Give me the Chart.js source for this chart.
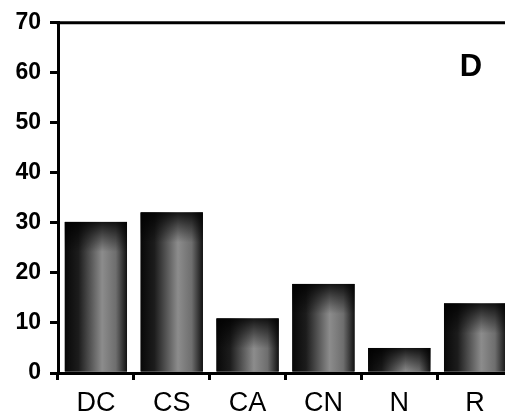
<!DOCTYPE html>
<html>
<head>
<meta charset="utf-8">
<script src="https://cdn.jsdelivr.net/npm/chart.js@4"></script>
<style>
  html, body { margin: 0; padding: 0; background: #fff; overflow: hidden; }
  #wrap { width: 522px; height: 419px; }
</style>
</head>
<body>
<div id="wrap"><canvas id="chart" width="522" height="419"></canvas></div>
<script>
const categories = ['DC', 'CS', 'CA', 'CN', 'N', 'R'];
const values = [30.2, 32.1, 10.9, 17.8, 5.0, 13.9];
const yTicks = [0, 10, 20, 30, 40, 50, 60, 70];
const panelLabel = 'D';

// shade each bar: dark edges, lighter stippled middle
const shadePlugin = {
    id: 'shade',
    afterDatasetsDraw(chart) {
        const ctx = chart.ctx;
        const meta = chart.getDatasetMeta(0);
        ctx.save();
        meta.data.forEach(bar => {
            const left = bar.x - bar.width / 2;
            const top = bar.y;
            const h = bar.base - bar.y;
            const g = ctx.createLinearGradient(left, 0, left + bar.width, 0);
            g.addColorStop(0, '#080808');
            g.addColorStop(0.22, '#1c1c1c');
            g.addColorStop(0.6, '#8c8c8c');
            g.addColorStop(0.82, '#6e6e6e');
            g.addColorStop(1, '#121212');
            ctx.fillStyle = g;
            ctx.fillRect(left, top, bar.width, h);
            // darker band on top of each bar
            const tg = ctx.createLinearGradient(0, top, 0, top + Math.min(30, h));
            tg.addColorStop(0, 'rgba(0,0,0,0.85)');
            tg.addColorStop(1, 'rgba(0,0,0,0)');
            ctx.fillStyle = tg;
            ctx.fillRect(left, top, bar.width, Math.min(30, h));
        });
        ctx.restore();
    }
};

const framePlugin = {
    id: 'frame',
    afterDraw(chart) {
        const { ctx, chartArea } = chart;
        ctx.save();
        ctx.strokeStyle = '#000';
        ctx.lineWidth = 3;
        ctx.beginPath();
        ctx.moveTo(chartArea.left - 1.5, chartArea.top);
        ctx.lineTo(chart.width, chartArea.top);
        ctx.stroke();
        ctx.fillStyle = '#000';
        ctx.font = 'bold 31px "Liberation Sans", Arial, sans-serif';
        ctx.textAlign = 'center';
        ctx.textBaseline = 'middle';
        ctx.fillText(panelLabel, 471, 67);
        ctx.restore();
    }
};

new Chart(document.getElementById('chart'), {
    type: 'bar',
    data: {
        labels: categories,
        datasets: [{
            data: values,
            backgroundColor: '#111',
            borderWidth: 0,
            barPercentage: 0.82,
            categoryPercentage: 1
        }]
    },
    options: {
        responsive: false,
        animation: false,
        devicePixelRatio: 1,
        layout: { padding: { top: 17, right: 9, left: 0, bottom: 0 } },
        plugins: { legend: { display: false }, tooltip: { enabled: false } },
        scales: {
            x: {
                afterFit(scale) { scale.height = 46; },
                grid: {
                    offset: true,
                    drawOnChartArea: false,
                    color: '#000',
                    lineWidth: 3,
                    tickLength: 7
                },
                border: { color: '#000', width: 3 },
                ticks: {
                    color: '#000',
                    padding: 7,
                    font: { family: '"Liberation Sans", Arial, sans-serif', size: 27 }
                }
            },
            y: {
                min: 0,
                max: 70,
                afterFit(scale) { scale.width = 58; },
                afterBuildTicks(scale) { scale.ticks = yTicks.map(v => ({ value: v })); },
                grid: {
                    drawOnChartArea: false,
                    color: '#000',
                    lineWidth: 3,
                    tickLength: 8
                },
                border: { color: '#000', width: 3 },
                ticks: {
                    color: '#000',
                    padding: 9,
                    font: { family: '"Liberation Sans", Arial, sans-serif', size: 23, weight: 'bold' }
                }
            }
        }
    },
    plugins: [shadePlugin, framePlugin]
});
</script>
</body>
</html>
